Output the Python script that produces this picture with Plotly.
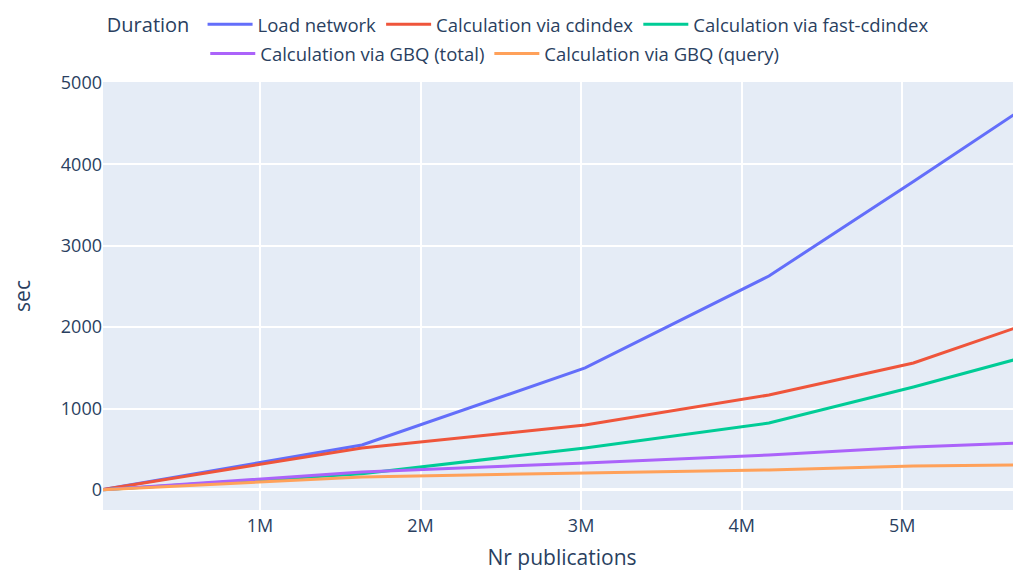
import plotly.graph_objects as go

nr_publications = [22000, 1635000, 3025000, 4170000, 5070000, 5740000]

load_network = [5, 553, 1499, 2629, 3790, 4668]
calc_cdindex = [5, 516, 799, 1167, 1560, 2015]
calc_fast_cdindex = [3, 200, 516, 823, 1265, 1622]
calc_gbq_total = [3, 221, 332, 430, 528, 577]
calc_gbq_query = [2, 160, 209, 246, 295, 307]

series = [
    ("Load network", load_network, "#636efa", "legend"),
    ("Calculation via cdindex", calc_cdindex, "#EF553B", "legend"),
    ("Calculation via fast-cdindex", calc_fast_cdindex, "#00cc96", "legend"),
    ("Calculation via GBQ (total)", calc_gbq_total, "#ab63fa", "legend2"),
    ("Calculation via GBQ (query)", calc_gbq_query, "#FFA15A", "legend2"),
]

fig = go.Figure()
for name, vals, color, leg in series:
    fig.add_trace(go.Scatter(x=nr_publications, y=vals, mode="lines", name=name,
                             legend=leg, line=dict(color=color, width=3)))

fig.update_layout(
    template="plotly",
    width=1013, height=563,
    margin=dict(l=95, r=0, t=74, b=61, autoexpand=False),
    font=dict(family="Open Sans", size=18, color="#2a3f5f"),
    legend=dict(orientation="h", x=0.002, xanchor="left", y=1.178, yanchor="top",
                title=dict(text="Duration&nbsp;", font=dict(size=20), side="left"),
                font=dict(size=18.5), itemwidth=45, bgcolor="rgba(0,0,0,0)"),
    legend2=dict(orientation="h", x=0.1114, xanchor="left", y=1.11, yanchor="top",
                 font=dict(size=18.5), itemwidth=45, bgcolor="rgba(0,0,0,0)"),
    xaxis=dict(title=dict(text="Nr publications", font=dict(size=21), standoff=25),
               tickvals=[1e6, 2e6, 3e6, 4e6, 5e6], ticktext=["1M", "2M", "3M", "4M", "5M"],
               gridwidth=1.5, range=[22000, 5740000], ticklabelstandoff=3),
    yaxis=dict(title=dict(text="sec", font=dict(size=21), standoff=35), range=[-246, 5012],
               dtick=1000, gridwidth=1.5, zerolinewidth=2.5),
)

fig.write_html("out.html")
